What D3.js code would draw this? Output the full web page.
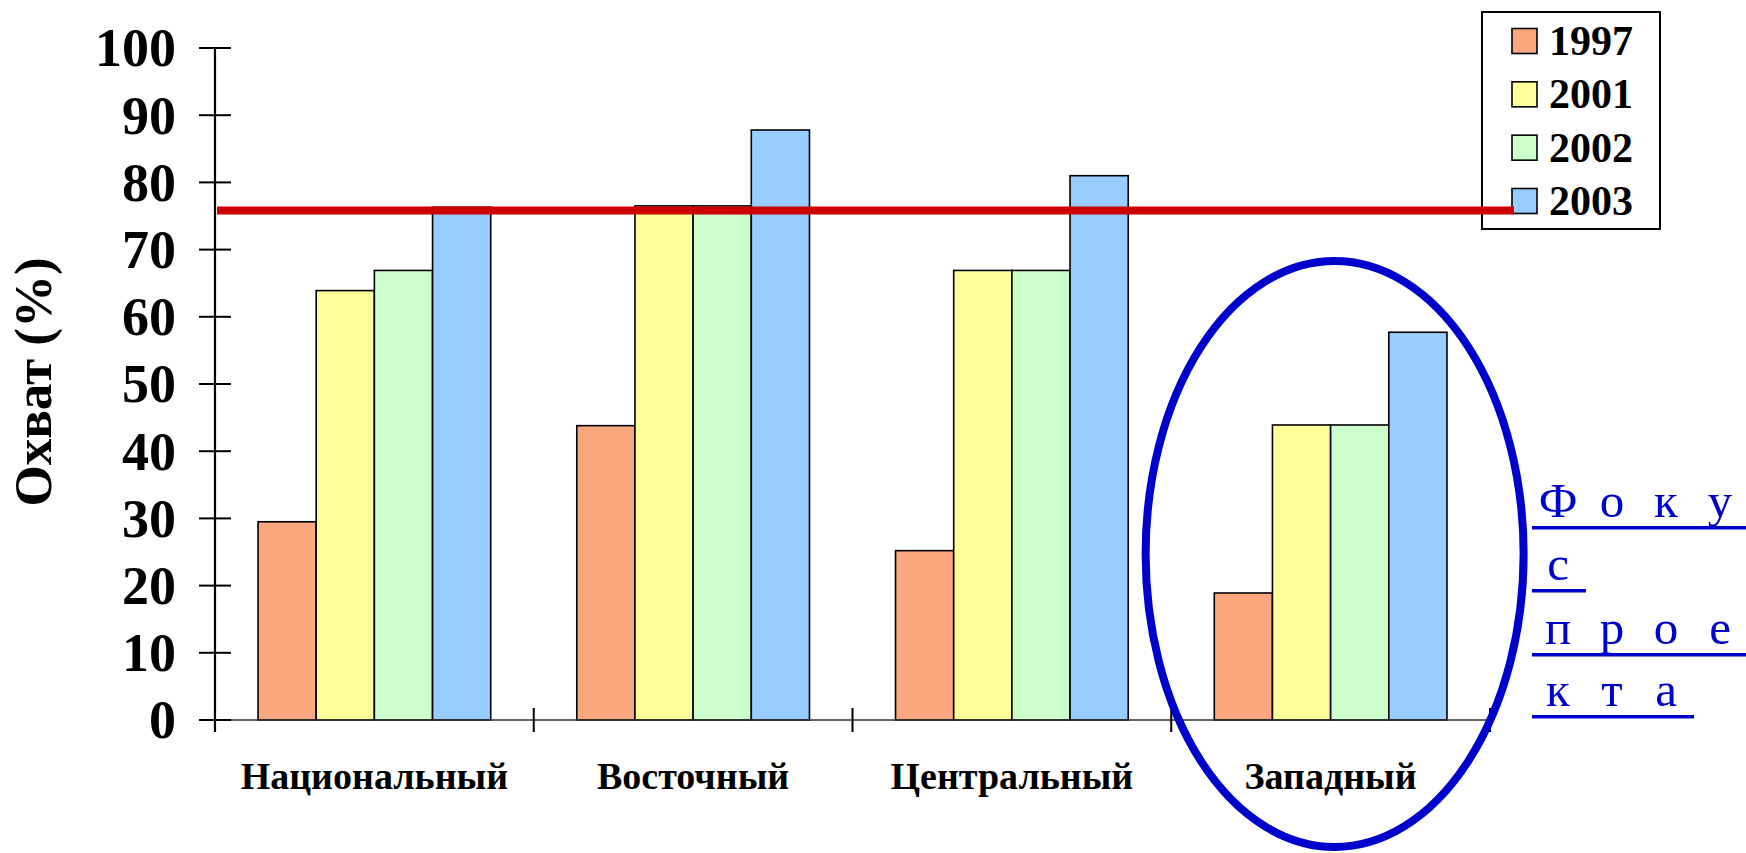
<!DOCTYPE html>
<html>
<head>
<meta charset="utf-8">
<script src="https://cdn.jsdelivr.net/npm/d3@7"></script>
<style>
  html, body { margin: 0; padding: 0; background: #fff; }
  svg { display: block; }
  text { font-family: "Liberation Serif", "Times New Roman", serif; }
</style>
</head>
<body>
<div id="chart"></div>
<script>
// Охват по регионам, %
const categories = ["Национальный", "Восточный", "Центральный", "Западный"];
const years = ["1997", "2001", "2002", "2003"];
const v1997 = [29.5, 43.8, 25.2, 18.9];
const v2001 = [63.9, 76.5, 66.9, 43.9];
const v2002 = [66.9, 76.5, 66.9, 43.9];
const v2003 = [76.3, 87.8, 81.0, 57.7];
const targetLevel = 75.8;
const yTicks = [0, 10, 20, 30, 40, 50, 60, 70, 80, 90, 100];
const yearColors = ["#F9A77F", "#FFFF99", "#CCFFCC", "#99CCFF"];
const focusRegion = "Западный";
const focusLines = [["Ф", "о", "к", "у"], ["с"], ["п", "р", "о", "е"], ["к", "т", "а"]];

const seriesByYear = [v1997, v2001, v2002, v2003];
const rows = categories.map((c, i) => ({
  category: c,
  values: years.map((y, j) => ({ year: y, value: seriesByYear[j][i], color: yearColors[j] }))
}));

const W = 1746, H = 853;
const svg = d3.select("#chart").append("svg").attr("width", W).attr("height", H);

const x0 = d3.scaleBand().domain(categories).range([215, 1490])
  .paddingInner(0.27).paddingOuter(0.135);
const x1 = d3.scaleBand().domain(years).range([0, x0.bandwidth()]);
const y = d3.scaleLinear().domain([0, 100]).range([720, 48]);
const axisX = x0.range()[0];

// bars
const groups = svg.append("g").selectAll("g").data(rows).join("g")
  .attr("transform", d => `translate(${x0(d.category)},0)`);
groups.selectAll("rect").data(d => d.values).join("rect")
  .attr("x", d => x1(d.year))
  .attr("width", x1.bandwidth())
  .attr("y", d => y(d.value))
  .attr("height", d => y(0) - y(d.value))
  .attr("fill", d => d.color)
  .attr("stroke", "#000")
  .attr("stroke-width", 1.6);

// x axis with category separators
const xa = svg.append("g");
xa.append("line")
  .attr("x1", axisX - 16).attr("x2", x0.range()[1])
  .attr("y1", y(0)).attr("y2", y(0))
  .attr("stroke", "#333").attr("stroke-width", 1.6);
const boundaries = categories.map(c => x0(c) - x0.step() * x0.paddingOuter()).concat([x0.range()[1]]);
xa.selectAll("line.sep").data(boundaries.slice(1)).join("line")
  .attr("class", "sep")
  .attr("x1", d => d).attr("x2", d => d)
  .attr("y1", y(0) - 12).attr("y2", y(0) + 12)
  .attr("stroke", "#000").attr("stroke-width", 2);
xa.selectAll("text").data(categories).join("text")
  .attr("x", d => x0(d) + x0.bandwidth() / 2)
  .attr("y", 789)
  .attr("text-anchor", "middle")
  .attr("font-size", 38)
  .attr("font-weight", "bold")
  .text(d => d);

// y axis
const ya = svg.append("g");
ya.append("line")
  .attr("x1", axisX).attr("x2", axisX)
  .attr("y1", y(100)).attr("y2", y(0) + 12)
  .attr("stroke", "#000").attr("stroke-width", 2.2);
ya.selectAll("line.tick").data(yTicks).join("line")
  .attr("class", "tick")
  .attr("x1", axisX - 16).attr("x2", axisX + 16)
  .attr("y1", d => y(d)).attr("y2", d => y(d))
  .attr("stroke", "#000").attr("stroke-width", 2);
ya.selectAll("text").data(yTicks).join("text")
  .attr("x", 176)
  .attr("y", d => y(d))
  .attr("dy", "0.34em")
  .attr("text-anchor", "end")
  .attr("font-size", 54)
  .attr("font-weight", "bold")
  .text(d => d);
svg.append("text")
  .attr("transform", "translate(51,382) rotate(-90)")
  .attr("text-anchor", "middle")
  .attr("font-size", 53)
  .attr("font-weight", "bold")
  .text("Охват (%)");

// legend
const lg = svg.append("g");
lg.append("rect")
  .attr("x", 1482).attr("y", 12).attr("width", 178).attr("height", 217)
  .attr("fill", "#fff").attr("stroke", "#000").attr("stroke-width", 2);
const ly = d3.scalePoint().domain(years).range([41, 201]);
lg.selectAll("rect.sw").data(years).join("rect")
  .attr("class", "sw")
  .attr("x", 1512).attr("y", d => ly(d) - 12.5)
  .attr("width", 25).attr("height", 25)
  .attr("fill", (d, i) => yearColors[i])
  .attr("stroke", "#000").attr("stroke-width", 1.6);
lg.selectAll("text").data(years).join("text")
  .attr("x", 1549).attr("y", d => ly(d) + 14)
  .attr("font-size", 42)
  .attr("font-weight", "bold")
  .text(d => d);

// target level line
svg.append("line")
  .attr("x1", axisX + 2).attr("x2", 1514)
  .attr("y1", y(targetLevel)).attr("y2", y(targetLevel))
  .attr("stroke", "#CC0000").attr("stroke-width", 8);

// focus ellipse around the western region
const fx = x0(focusRegion) + x0.bandwidth() / 2;
svg.append("ellipse")
  .attr("cx", fx + 4).attr("cy", 554)
  .attr("rx", 189).attr("ry", 293)
  .attr("fill", "none")
  .attr("stroke", "#0000CC").attr("stroke-width", 8);

// "Фокус проекта" caption
const cap = svg.append("g").attr("fill", "#0000CC");
const baseY = [517, 580, 644, 706];
const pitch = 54, firstX = 1558;
focusLines.forEach((chars, li) => {
  cap.selectAll(null).data(chars).join("text")
    .attr("x", (d, i) => firstX + i * pitch)
    .attr("y", baseY[li])
    .attr("text-anchor", "middle")
    .attr("font-size", 49)
    .text(d => d);
  const wraps = li === 0 || li === 2;
  cap.append("rect")
    .attr("x", 1532)
    .attr("y", baseY[li] + 9)
    .attr("width", wraps ? W - 1532 : (firstX + (chars.length - 1) * pitch + 28) - 1532)
    .attr("height", 3.5);
});
</script>
</body>
</html>
